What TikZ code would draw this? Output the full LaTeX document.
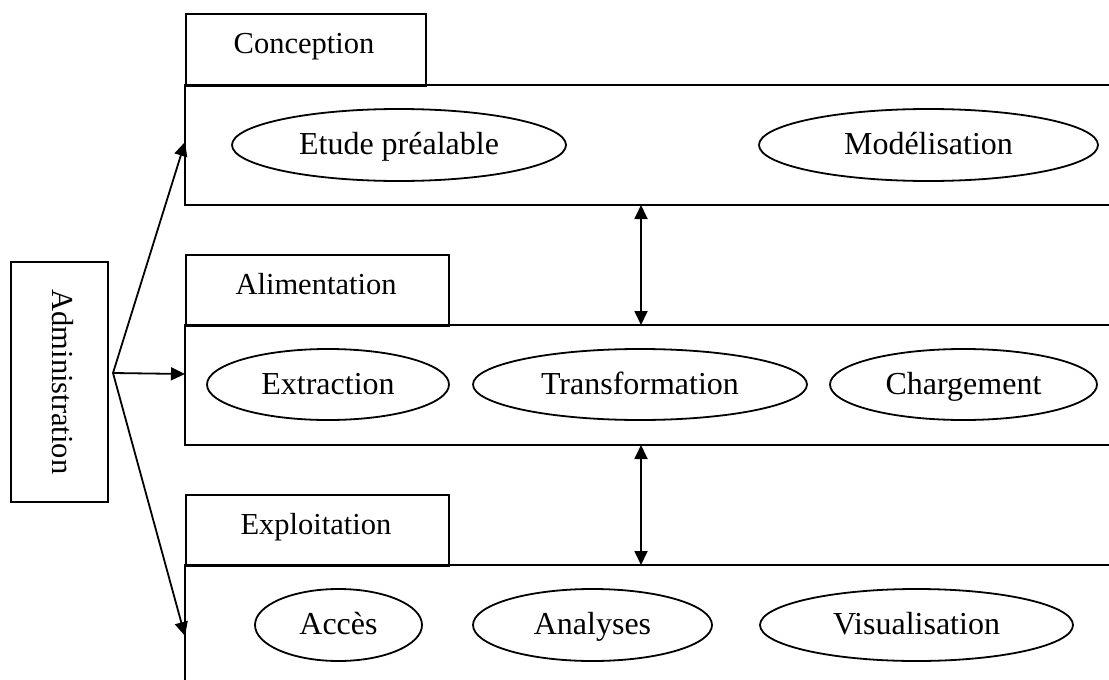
\documentclass[tikz,border=0pt]{standalone}
\usepackage{fontspec}
\setmainfont{Liberation Serif}
\usetikzlibrary{shapes.geometric,arrows.meta}
\begin{document}
\begin{tikzpicture}[x=1pt,y=-1pt,
  line width=1.8pt,
  tab/.style={draw,rectangle,anchor=north west,inner sep=0pt},
  tablabel/.style={font=\fontsize{30.5}{35}\selectfont,inner sep=0pt,anchor=base},
  task/.style={draw,ellipse,inner sep=0pt,text height=25pt,text depth=6pt,
    font=\fontsize{32}{38}\selectfont},
  arr/.style={-{Triangle[length=14pt,width=13pt]}},
  darr/.style={{Triangle[length=14pt,width=13pt]}-{Triangle[length=14pt,width=13pt]}}
]
\useasboundingbox (0,0) rectangle (1109,680);
\clip (0,0) rectangle (1109,680);

% phase panels: open to the right
\coordinate (p1tl) at (185,85);  \coordinate (p1bl) at (185,205);
\coordinate (p2tl) at (185,325); \coordinate (p2bl) at (185,445);
\coordinate (p3tl) at (185,565); \coordinate (p3bl) at (185,690);
\draw (1120,85) -- (p1tl) -- (p1bl) -- (1120,205);
\draw (1120,325) -- (p2tl) -- (p2bl) -- (1120,445);
\draw (1120,565) -- (p3tl) -- (p3bl);

% tabs with phase names
\node[tab,minimum width=240pt,minimum height=72pt] (t1) at (185,13) {};
\node[tab,minimum width=263pt,minimum height=71pt] (t2) at (185,254) {};
\node[tab,minimum width=263pt,minimum height=71pt] (t3) at (185,494) {};
\node[tablabel] (l1) at (304,53) {Conception};
\node[tablabel] (l2) at (316,294) {Alimentation};
\node[tablabel] (l3) at (316,534) {Exploitation};

% tasks
\node[task,minimum width=334pt,minimum height=72pt] (e11) at (399,145) {Etude préalable};
\node[task,minimum width=339pt,minimum height=72pt] (e12) at (928.5,145) {Modélisation};
\node[task,minimum width=242pt,minimum height=71pt] (e21) at (328,384.5) {Extraction};
\node[task,minimum width=334pt,minimum height=71pt] (e22) at (640,384.5) {Transformation};
\node[task,minimum width=267pt,minimum height=71pt] (e23) at (963.5,384.5) {Chargement};
\node[task,minimum width=167pt,minimum height=72pt] (e31) at (338.5,625) {Accès};
\node[task,minimum width=239pt,minimum height=72pt] (e32) at (592.5,625) {Analyses};
\node[task,minimum width=313pt,minimum height=72pt] (e33) at (916.5,625) {Visualisation};

% administration box
\node[draw,rectangle,minimum width=97pt,minimum height=240pt,inner sep=0pt] (adm) at (59.5,382) {};
\node[rotate=-90,font=\fontsize{30.5}{35}\selectfont,inner sep=0pt] (admt) at (63,382) {Administration};

\coordinate (fork) at (113,373);
\coordinate (in1) at (185,142);
\coordinate (in2) at (185,374);
\coordinate (in3) at (185,636);
\draw[arr] (fork) -- (in1);
\draw[arr] (fork) -- (in2);
\draw[arr] (fork) -- (in3);

% links between phases
\coordinate (a1) at (641,205); \coordinate (a2) at (641,325);
\coordinate (b1) at (641,445); \coordinate (b2) at (641,565);
\draw[darr] (a1) -- (a2);
\draw[darr] (b1) -- (b2);
\end{tikzpicture}
\end{document}
